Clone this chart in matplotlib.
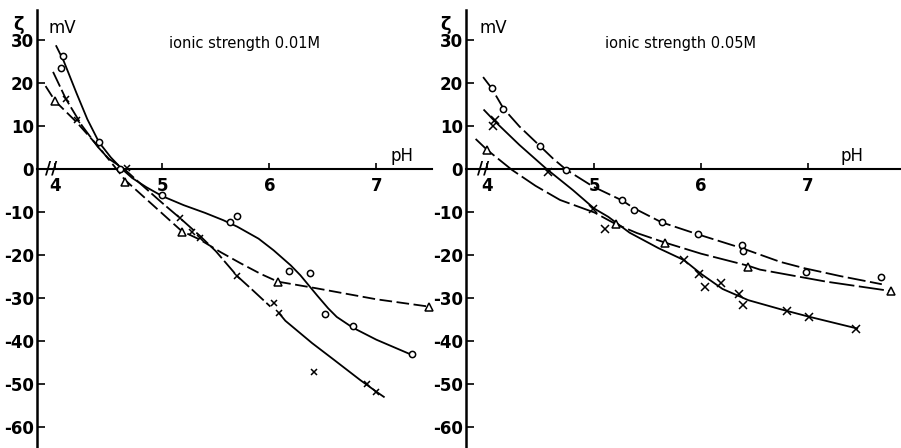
# Zeta potential vs pH at two ionic strengths

import matplotlib.pyplot as plt

plt.rcParams['font.family'] = ['DejaVu Sans']
plt.rcParams['axes.unicode_minus'] = False

y_ticks = [-60, -50, -40, -30, -20, -10, 0, 10, 20, 30]
x_ticks = [4, 5, 6, 7]

# ---- ionic strength 0.01 M : measured points
l_circ_ph = [4.07, 4.05, 4.41, 4.61, 5.00, 5.63, 5.70, 6.18, 6.38, 6.52, 6.78, 7.33]
l_circ_z = [26.2, 23.3, 6.1, 0.0, -6.2, -12.4, -11.0, -23.8, -24.2, -33.8, -36.6, -43.1]
l_tri_ph = [4.00, 4.65, 5.18, 6.08, 7.49]
l_tri_z = [15.7, -3.0, -14.7, -26.3, -32.1]
l_x_ph = [4.10, 4.20, 4.67, 5.17, 5.28, 5.35, 5.70, 6.04, 6.09, 6.42, 6.91, 7.00]
l_x_z = [16.2, 11.4, 0.2, -11.6, -14.7, -16.2, -25.0, -31.2, -33.7, -47.3, -50.1, -51.9]

# ---- 0.01 M : hand-drawn curves
l_curve_circ_ph = [4.01, 4.08, 4.20, 4.30, 4.41, 4.52, 4.62, 4.72, 4.85, 5.00, 5.20, 5.40, 5.57,
                   5.70, 5.90, 6.04, 6.20, 6.29, 6.38, 6.45, 6.55, 6.63, 6.78, 7.00, 7.30]
l_curve_circ_z = [28.5, 25.0, 17.5, 11.5, 6.1, 2.6, 0.0, -2.2, -4.3, -6.4, -8.5, -10.3, -12.0,
                  -13.5, -16.3, -19.0, -22.5, -24.8, -27.5, -29.6, -32.5, -34.5, -37.0, -39.8, -43.0]
l_curve_x_ph = [3.98, 4.10, 4.25, 4.40, 4.50, 4.65, 4.80, 5.00, 5.17, 5.35, 5.50, 5.70, 5.85, 6.01]
l_curve_x_z = [22.5, 16.2, 10.0, 5.0, 2.3, -0.2, -3.6, -8.0, -11.6, -15.6, -19.2, -25.0, -28.4, -32.1]
l_curve_x2_ph = [6.09, 6.15, 6.40, 6.60, 6.85, 7.00, 7.07]
l_curve_x2_z = [-33.6, -35.4, -40.6, -44.4, -49.2, -51.9, -53.1]
l_curve_tri_ph = [3.91, 4.00, 4.20, 4.40, 4.56, 4.65, 4.90, 5.18, 5.35, 5.55, 5.73, 5.92, 6.08,
                  6.43, 7.00, 7.49]
l_curve_tri_z = [19.2, 15.7, 10.8, 5.2, 0.3, -2.6, -8.2, -14.5, -16.5, -19.5, -22.0, -24.5, -26.3,
                 -27.8, -30.4, -32.1]

# ---- ionic strength 0.05 M : measured points
r_circ_ph = [4.04, 4.15, 4.49, 4.74, 5.26, 5.37, 5.63, 5.97, 6.38, 6.39, 6.98, 7.68]
r_circ_z = [18.7, 13.8, 5.3, -0.3, -7.4, -9.7, -12.5, -15.3, -17.8, -19.2, -24.1, -25.3]
r_tri_ph = [4.00, 5.20, 5.66, 6.44, 7.78]
r_tri_z = [4.3, -12.9, -17.2, -22.8, -28.5]
r_x_ph = [4.07, 4.05, 4.57, 4.99, 5.10, 5.84, 5.98, 6.04, 6.19, 6.35, 6.39, 6.80, 7.01, 7.45]
r_x_z = [11.3, 9.9, -0.7, -9.3, -14.1, -21.3, -24.6, -27.5, -26.7, -29.2, -31.7, -33.1, -34.5, -37.2]

# ---- 0.05 M : hand-drawn curves
r_curve_circ_ph = [3.96, 4.04, 4.15, 4.30, 4.49, 4.62, 4.74, 4.99, 5.26, 5.37, 5.63, 5.97,
                   6.38, 6.74, 6.97, 7.30, 7.69]
r_curve_circ_z = [21.3, 18.7, 14.0, 9.8, 5.3, 2.2, -0.3, -4.2, -7.4, -9.2, -12.5, -15.3,
                  -18.5, -21.7, -23.2, -25.0, -26.9]
r_curve_x_ph = [3.97, 4.07, 4.30, 4.55, 4.80, 5.00, 5.13, 5.33, 5.60, 5.84, 6.00, 6.20,
                6.44, 6.74, 7.00, 7.46]
r_curve_x_z = [13.6, 11.0, 5.5, 0.0, -5.0, -9.3, -11.2, -14.9, -18.5, -21.3, -24.5, -28.0,
               -30.6, -32.7, -34.4, -37.2]
r_curve_tri_ph = [3.89, 4.00, 4.23, 4.45, 4.68, 5.00, 5.20, 5.40, 5.66, 6.00, 6.44, 6.55,
                  7.17, 7.78]
r_curve_tri_z = [6.9, 4.3, -0.3, -4.0, -7.3, -10.2, -12.9, -15.0, -17.2, -19.8, -22.6, -23.5,
                 -26.3, -28.5]


def setup_axes(ax, xlim, title, title_x, ph_x):
    ax.set_xlim(*xlim)
    ax.set_ylim(-65, 36.9)
    for s in ['top', 'right']:
        ax.spines[s].set_visible(False)
    ax.spines['left'].set_linewidth(1.8)
    ax.spines['bottom'].set_position(('data', 0))
    ax.spines['bottom'].set_linewidth(1.5)
    ax.set_xticks(x_ticks)
    ax.set_yticks(y_ticks)
    ax.set_yticklabels([str(v) for v in y_ticks])
    ax.tick_params(axis='x', direction='in', length=4, width=1.2, pad=6, labelsize=12)
    ax.tick_params(axis='y', direction='in', length=6, width=1.2, pad=2, labelsize=12)
    for lab in ax.get_xticklabels() + ax.get_yticklabels():
        lab.set_fontweight('bold')
    ax.text(title_x, 29.2, title, fontsize=10.5, va='center', ha='left')
    ax.text(-0.06, 0.965, 'ζ', transform=ax.transAxes, fontsize=13, fontweight='bold',
            va='center', ha='left')
    ax.text(0.03, 0.96, 'mV', transform=ax.transAxes, fontsize=12, va='center', ha='left')
    ax.text(ph_x, 2.9, 'pH', fontsize=12, va='center', ha='left')
    # axis break mark
    ax.text(3.96, 0, '//', fontsize=12, fontweight='bold', va='center', ha='center')
    ax.patch.set_visible(False)


def draw(ax, curves, points):
    for ph, z, ls in curves:
        ax.plot(ph, z, color='black', lw=1.3, ls=ls, zorder=2)
    for ph, z, m, ms in points:
        face = 'none' if m == 'x' else 'white'
        ax.plot(ph, z, ls='none', marker=m, ms=ms, mfc=face, mec='black', mew=1.1,
                zorder=3, clip_on=False)


fig = plt.figure(figsize=(9.01, 4.48), dpi=100)
ax1 = fig.add_axes([37 / 901, 0, (432 - 37) / 901, 1 - 10 / 448])
ax2 = fig.add_axes([466 / 901, 0, (900 - 466) / 901, 1 - 10 / 448])

setup_axes(ax1, (3.83, 7.52), 'ionic strength 0.01M', 5.06, 7.13)
setup_axes(ax2, (3.80, 7.86), 'ionic strength 0.05M', 5.10, 7.30)

draw(ax1,
     [(l_curve_circ_ph, l_curve_circ_z, '-'),
      (l_curve_x_ph, l_curve_x_z, (0, (9, 2))),
      (l_curve_x2_ph, l_curve_x2_z, '-'),
      (l_curve_tri_ph, l_curve_tri_z, (0, (7, 2.5)))],
     [(l_circ_ph, l_circ_z, 'o', 4.5),
      (l_tri_ph, l_tri_z, '^', 5.5),
      (l_x_ph, l_x_z, 'x', 5)])

draw(ax2,
     [(r_curve_circ_ph, r_curve_circ_z, (0, (10, 2.5))),
      (r_curve_x_ph, r_curve_x_z, '-'),
      (r_curve_tri_ph, r_curve_tri_z, (0, (14, 2.5)))],
     [(r_circ_ph, r_circ_z, 'o', 4.5),
      (r_tri_ph, r_tri_z, '^', 5.5),
      (r_x_ph, r_x_z, 'x', 5.5)])

fig.savefig('out.png', dpi=100)
